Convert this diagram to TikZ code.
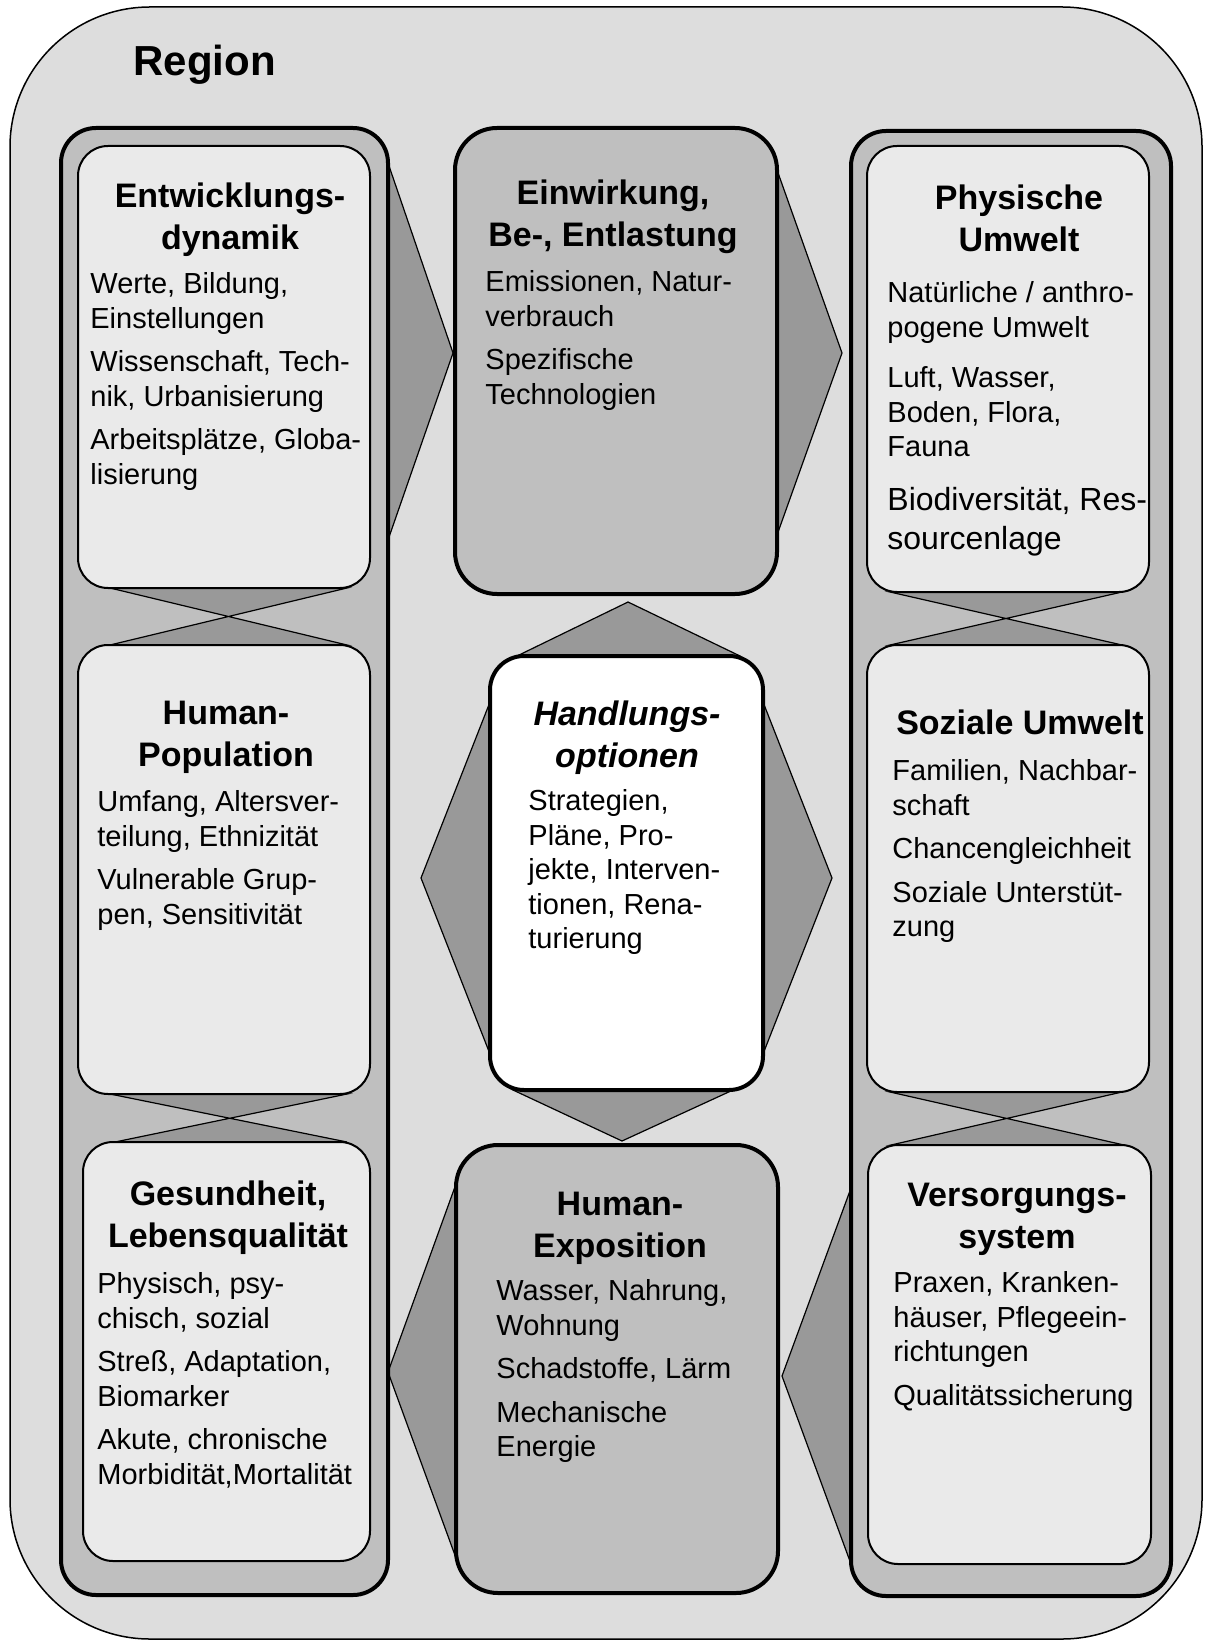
\documentclass[tikz,border=0pt]{standalone}
\usepackage{fontspec}
\setmainfont{Liberation Sans}
\usetikzlibrary{calc}
\pgfdeclarelayer{back}
\pgfdeclarelayer{arrowlayer}
\pgfdeclarelayer{collayer}
\pgfdeclarelayer{hglayer}
\pgfsetlayers{back,arrowlayer,collayer,hglayer,main}
\definecolor{regionbg}{gray}{0.867}
\definecolor{colbg}{gray}{0.75}
\definecolor{boxbg}{gray}{0.918}
\definecolor{darkbg}{gray}{0.6}

\begin{document}
\begin{tikzpicture}[x=0.5pt, y=-0.5pt,
  colbox/.style={draw, line width=2pt, fill=colbg, rounded corners=17.5pt, outer sep=0pt, inner sep=0pt},
  lightbox/.style={draw, line width=1pt, fill=boxbg, rounded corners=15pt, outer sep=0pt, inner sep=0pt},
  midbox/.style={draw, line width=2pt, fill=colbg, rounded corners=21pt, outer sep=0pt, inner sep=0pt},
  chevron/.style={draw, line width=0.6pt, fill=darkbg},
  title/.style={anchor=north, align=center, inner sep=0pt, font=\fontsize{17}{21}\selectfont\bfseries},
  body/.style={anchor=north west, align=left, inner sep=0pt, font=\fontsize{14.5}{17.25}\selectfont}]
\useasboundingbox (0,0) rectangle (1204,1641);

% region
\begin{pgfonlayer}{back}
\draw[line width=0.75pt, fill=regionbg, rounded corners=70pt] (10,7) rectangle (1202,1639);
\end{pgfonlayer}
\node[anchor=base west, inner sep=0pt, font=\fontsize{21}{25}\selectfont\bfseries] (region) at (133,76) {Region};

% columns
\begin{pgfonlayer}{collayer}
\node[colbox, minimum width=163.5pt, minimum height=733.5pt] (lcol) at (224.5,861.5) {};
\node[colbox, minimum width=160pt, minimum height=732.5pt] (rcol) at (1011,863.5) {};
\end{pgfonlayer}

% boxes
\node[lightbox, minimum width=146pt, minimum height=221pt] (le) at (224,367) {};
\node[lightbox, minimum width=146pt, minimum height=224.5pt] (lh) at (224,869.5) {};
\node[lightbox, minimum width=143.5pt, minimum height=209.5pt] (lg) at (226.5,1351.5) {};
\node[midbox, minimum width=161pt, minimum height=233pt] (ein) at (616,361) {};
\node[midbox, fill=white, rounded corners=17pt, minimum width=136.5pt, minimum height=217pt] (hand) at (626.5,873) {};
\node[midbox, minimum width=161pt, minimum height=224pt] (expo) at (617,1369) {};
\node[lightbox, minimum width=141pt, minimum height=223pt] (rp) at (1008,369) {};
\node[lightbox, minimum width=141pt, minimum height=223.5pt] (rs) at (1008,868.5) {};
\node[lightbox, minimum width=141.5pt, minimum height=209.5pt] (rv) at (1009.5,1354.5) {};

% texts
\node[title] (le-t) at (230,178) {\strut Entwicklungs-\\dynamik};
\node[body] (le-b) at (90,269) {\strut Werte, Bildung,\\Einstellungen\\[4.5pt]Wissenschaft, Tech-\\nik, Urbanisierung\\[4.5pt]Arbeitsplätze, Globa-\\lisierung};
\node[title] (lh-t) at (226,695) {\strut Human-\\Population};
\node[body] (lh-b) at (97,787) {\strut Umfang, Altersver-\\teilung, Ethnizität\\[4.5pt]Vulnerable Grup-\\pen, Sensitivität};
\node[title] (lg-t) at (228,1176) {\strut Gesundheit,\\Lebensqualität};
\node[body] (lg-b) at (97,1269) {\strut Physisch, psy-\\chisch, sozial\\[4.5pt]Streß, Adaptation,\\Biomarker\\[4.5pt]Akute, chronische\\Morbidität,Mortalität};

\node[title] (ein-t) at (613,175) {\strut Einwirkung,\\Be-, Entlastung};
\node[body] (ein-b) at (485,267) {\strut Emissionen, Natur-\\verbrauch\\[4.5pt]Spezifische\\Technologien};
\node[title, font=\fontsize{17}{21}\selectfont\bfseries\itshape] (hand-t) at (627,696) {\strut Handlungs-\\optionen};
\node[body] (hand-b) at (528,786) {\strut Strategien,\\Pläne, Pro-\\jekte, Interven-\\tionen, Rena-\\turierung};
\node[title] (expo-t) at (620,1186) {\strut Human-\\Exposition};
\node[body] (expo-b) at (496,1276) {\strut Wasser, Nahrung,\\Wohnung\\[4.5pt]Schadstoffe, Lärm\\[4.5pt]Mechanische\\Energie};

\node[title] (rp-t) at (1019,180) {\strut Physische\\Umwelt};
\node[body] (rp-b) at (887,278) {\strut Natürliche / anthro-\\pogene Umwelt\\[8pt]Luft, Wasser,\\Boden, Flora,\\Fauna};
\node[body, font=\fontsize{16}{19.5}\selectfont] (rp-b2) at (887,483) {\strut Biodiversität, Res-\\sourcenlage};
\node[title] (rs-t) at (1020,705) {\strut Soziale Umwelt};
\node[body] (rs-b) at (892,756) {\strut Familien, Nachbar-\\schaft\\[4.5pt]Chancengleichheit\\[4.5pt]Soziale Unterstüt-\\zung};
\node[title] (rv-t) at (1017,1177) {\strut Versorgungs-\\system};
\node[body] (rv-b) at (893,1268) {\strut Praxen, Kranken-\\häuser, Pflegeein-\\richtungen\\[4.5pt]Qualitätssicherung};

% links inside the columns
\begin{pgfonlayer}{hglayer}
\foreach \a/\b in {le/lh, lh/lg}
  \filldraw[chevron] ($(\a.south west)+(32,0)$) -- ($(\a.south east)+(-23,0)$) -- ($(\b.north west)+(32,0)$) -- ($(\b.north east)+(-23,0)$) -- cycle;
\foreach \a/\b in {rp/rs, rs/rv}
  \filldraw[chevron] ($(\a.south west)+(23,0)$) -- ($(\a.south east)+(-27,0)$) -- ($(\b.north west)+(23,0)$) -- ($(\b.north east)+(-27,0)$) -- cycle;
\end{pgfonlayer}

% chevrons between columns
\begin{pgfonlayer}{arrowlayer}
\filldraw[chevron] ($(lcol.north east)+(0,35)$) -- ($(ein.west)+(-2,-8)$) -- ($(lcol.north east)+(0,412)$) -- cycle;
\filldraw[chevron] ($(ein.north east)+(0,42)$) -- ($(rcol.west |- ein.west)+(-9,-8)$) -- ($(ein.north east)+(0,407)$) -- cycle;
\filldraw[chevron] ($(rcol.west |- expo.north)+(0,43)$) -- ($(expo.east)+(4,7)$) -- ($(rcol.west |- expo.south)+(0,-29)$) -- cycle;
\filldraw[chevron] ($(expo.north west)+(0,39)$) -- ($(lcol.east |- expo.west)+(0,3)$) -- ($(expo.south west)+(0,-35)$) -- cycle;
% around the options
\filldraw[chevron] ($(hand.north west)+(27,0)$) -- ($(hand.north)+(1.5,-54)$) -- ($(hand.north east)+(-23,0)$) -- cycle;
\filldraw[chevron] ($(hand.south west)+(23,0)$) -- ($(hand.south)+(-4.5,51)$) -- ($(hand.south east)+(-30,0)$) -- cycle;
\filldraw[chevron] ($(hand.north west)+(0,46)$) -- ($(hand.west)+(-69,5)$) -- ($(hand.south west)+(0,-36)$) -- cycle;
\filldraw[chevron] ($(hand.north east)+(0,46)$) -- ($(hand.east)+(69,5)$) -- ($(hand.south east)+(0,-36)$) -- cycle;
\end{pgfonlayer}

\end{tikzpicture}
\end{document}
